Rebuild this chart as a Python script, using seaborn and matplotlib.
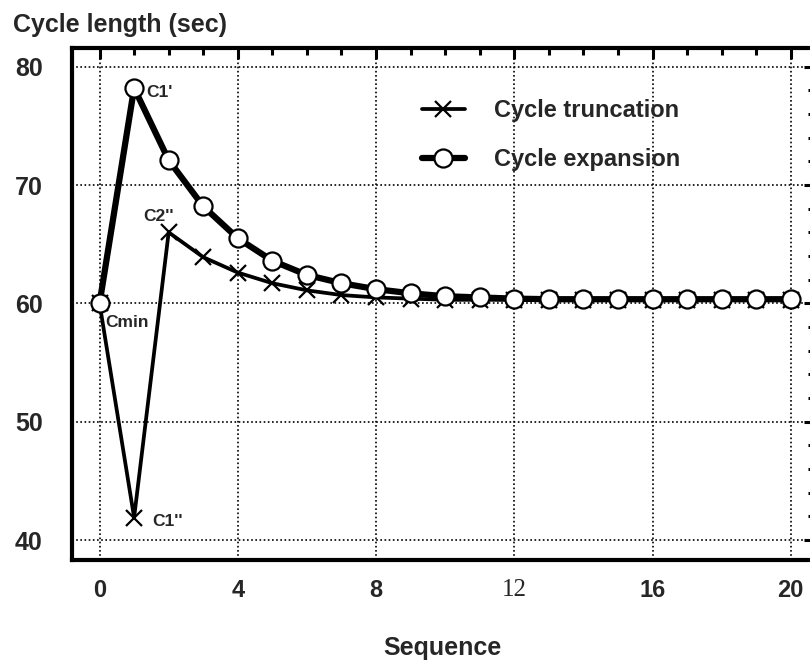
import matplotlib
matplotlib.use("Agg")
import matplotlib.pyplot as plt
import seaborn as sns
import numpy as np
import pandas as pd
from matplotlib.ticker import MultipleLocator
from matplotlib.font_manager import FontProperties

# ---- data ----
sequence = list(range(0, 21))
truncation = [60.0, 41.9, 66.0, 63.9, 62.6, 61.7, 61.1, 60.7, 60.5, 60.4,
              60.3, 60.3, 60.3, 60.3, 60.3, 60.3, 60.3, 60.3, 60.3, 60.3, 60.3]
expansion = [60.0, 78.2, 72.1, 68.2, 65.5, 63.6, 62.4, 61.7, 61.2, 60.85,
             60.6, 60.5, 60.4, 60.35, 60.35, 60.35, 60.35, 60.35, 60.35, 60.35, 60.35]
series_names = ["Cycle truncation", "Cycle expansion"]
x_ticks = [0, 4, 8, 12, 16, 20]
y_ticks = [40, 50, 60, 70, 80]
annotations = [("C1'", 1, 78.2, (9, -6.5)),
               ("C2''", 2, 66.0, (-18, 8.5)),
               ("Cmin", 0, 60.0, (4, -17)),
               ("C1''", 1, 41.9, (13, -6))]

sns.set_style("white")
plt.rcParams["font.family"] = ["Liberation Sans", "DejaVu Sans"]
plt.rcParams["font.weight"] = "bold"

fig = plt.figure(figsize=(8.1, 6.64), dpi=100)
ax = fig.add_axes([72 / 810, 104 / 664, (815 - 72) / 810, (616 - 104) / 664])

df = pd.DataFrame({"seq": sequence, "trunc": truncation, "exp": expansion})

sns.lineplot(data=df, x="seq", y="trunc", ax=ax, color="black", linewidth=2.7,
             marker="x", markersize=12, markeredgewidth=1.6, markeredgecolor="black",
             label=series_names[0], zorder=3)
sns.lineplot(data=df, x="seq", y="exp", ax=ax, color="black", linewidth=4.5,
             marker="o", markersize=13, markerfacecolor="white",
             markeredgecolor="black", markeredgewidth=1.6,
             label=series_names[1], zorder=4)

ax.set_xlim(-0.797, 20.70)
ax.set_ylim(38.31, 81.58)
ax.set_xticks(x_ticks)
ax.set_yticks(y_ticks)
ax.xaxis.set_minor_locator(MultipleLocator(1))
ax.yaxis.set_minor_locator(MultipleLocator(2))
ax.set_xlabel("")
ax.set_ylabel("")

ax.grid(True, which="major", color="black", linestyle=(0, (1, 1.5)), linewidth=1.2)
for s in ax.spines.values():
    s.set_linewidth(3)
    s.set_color("black")
    s.set_visible(True)

ax.tick_params(which="both", direction="in", top=True, right=True, color="black")
ax.tick_params(which="major", length=8, width=2.2)
ax.tick_params(which="minor", length=5, width=2.2)
ax.tick_params(axis="y", which="major", labelsize=18, pad=21)
ax.tick_params(axis="x", which="major", labelsize=17, pad=14)

for lab in ax.get_yticklabels():
    lab.set_fontweight("bold")
for lab in ax.get_xticklabels():
    lab.set_fontweight("bold")
    if lab.get_text() == "12":
        lab.set_fontproperties(FontProperties(family="Liberation Serif", weight="normal", size=18))

for txt, xv, yv, off in annotations:
    ax.annotate(txt, xy=(xv, yv), xytext=off, textcoords="offset points",
                ha="left", va="baseline", fontsize=12.5, fontweight="bold", zorder=6)

leg = ax.legend(loc="upper left", bbox_to_anchor=(422 / 810, 1 - 99 / 664),
                bbox_transform=fig.transFigure, frameon=False, borderpad=0,
                borderaxespad=0, handlelength=1.8, handletextpad=1.25,
                labelspacing=1.1, prop={"size": 17, "weight": "bold"})

fig.text(13 / 810, 1 - 32 / 664, "Cycle length (sec)", ha="left", va="baseline",
         fontsize=18, fontweight="bold")
fig.text(442 / 810, 1 - 655 / 664, "Sequence", ha="center", va="baseline",
         fontsize=18, fontweight="bold")

fig.savefig("out.png", dpi=100)
